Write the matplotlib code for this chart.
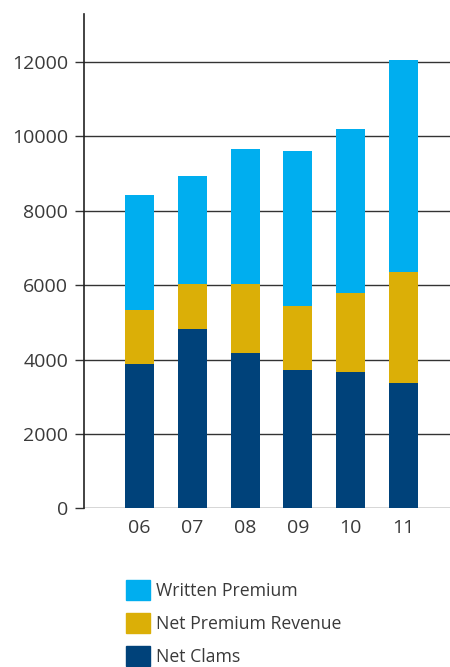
import matplotlib
matplotlib.use("Agg")
import matplotlib.pyplot as plt
from matplotlib.patches import Patch

years = ["06", "07", "08", "09", "10", "11"]
written_premium = [8420, 8940, 9660, 9610, 10200, 12060]
net_premium_revenue = [5330, 6030, 6040, 5450, 5790, 6350]
net_claims = [3880, 4820, 4180, 3720, 3660, 3370]
y_ticks = [0, 2000, 4000, 6000, 8000, 10000, 12000]

c_wp = "#00AEEF"
c_npr = "#DBAF07"
c_nc = "#00427A"
text_c = "#3a3a3a"

plt.rcParams["font.family"] = ["Open Sans", "DejaVu Sans"]

W, H = 450, 667
fig = plt.figure(figsize=(W / 100, H / 100), dpi=100)
ax = fig.add_axes([84 / W, (H - 508.3) / H, 1 - 84 / W, (508.3 - 14) / H])

x = list(range(len(years)))
bw = 0.55
ax.bar(x, written_premium, width=bw, color=c_wp, zorder=3)
ax.bar(x, net_premium_revenue, width=bw, color=c_npr, zorder=3)
ax.bar(x, net_claims, width=bw, color=c_nc, zorder=3)

ax.set_xlim(-1.05, 5.88)
ax.set_ylim(0, 13290)
ax.set_yticks(y_ticks)
ax.set_yticklabels([str(v) for v in y_ticks])
ax.set_xticks(x)
ax.set_xticklabels(years)

ax.yaxis.grid(True, color="#333333", linewidth=1.0, zorder=1)
ax.set_axisbelow(True)
for s in ["top", "right", "bottom"]:
    ax.spines[s].set_visible(False)
ax.spines["left"].set_color("#222222")
ax.spines["left"].set_linewidth(1.2)

ax.tick_params(axis="y", length=6.5, width=1.0, color="#333333", pad=5,
               labelsize=14, labelcolor=text_c)
ax.tick_params(axis="x", length=0, pad=7.5, labelsize=14, labelcolor=text_c)

handles = [Patch(color=c_wp), Patch(color=c_npr), Patch(color=c_nc)]
labels = ["Written Premium", "Net Premium Revenue", "Net Clams"]
leg = fig.legend(handles, labels, loc="upper left",
                 bbox_to_anchor=(126 / W, 1 - 580 / H),
                 frameon=False, fontsize=12.7, borderpad=0, borderaxespad=0,
                 handlelength=1.35, handleheight=1.35, handletextpad=0.35,
                 labelspacing=0.75)
for t in leg.get_texts():
    t.set_color(text_c)

fig.savefig("out.png", dpi=100)
